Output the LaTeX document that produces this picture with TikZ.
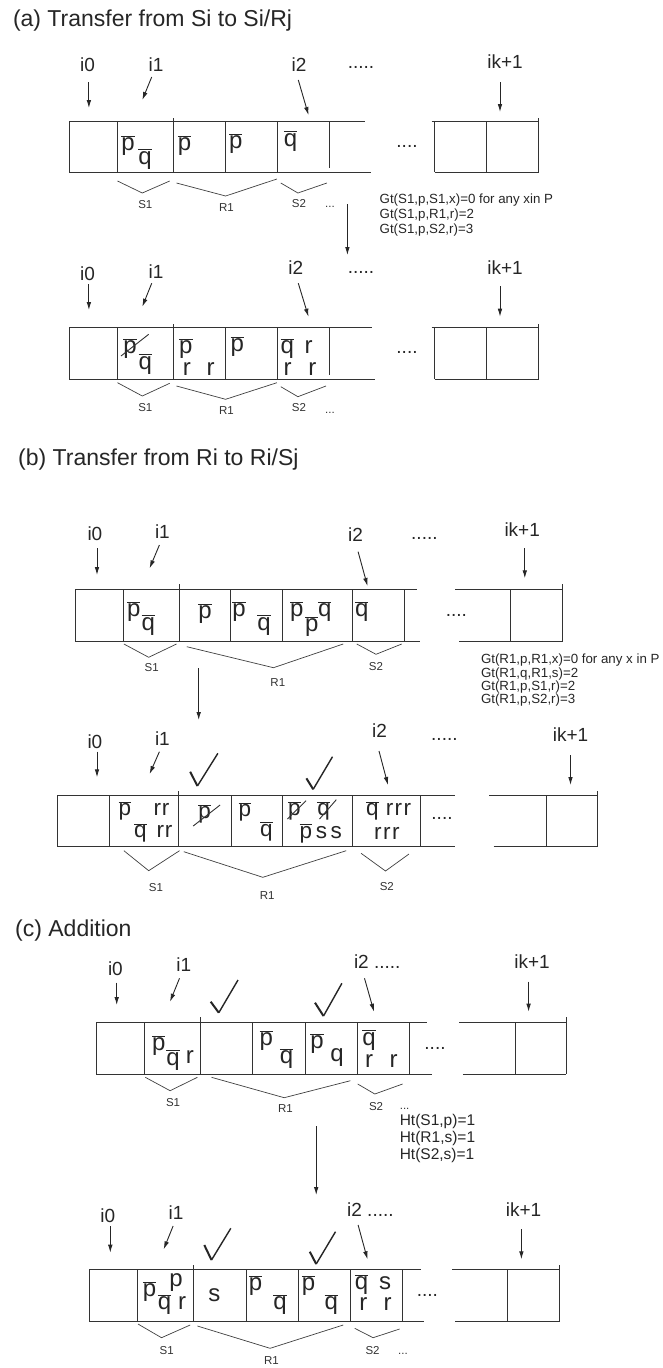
\documentclass[tikz,border=0pt]{standalone}
\usepackage{fontspec}
\setmainfont{Liberation Sans}
\usetikzlibrary{arrows.meta}
\newcommand\ob[1]{$\overline{\mbox{#1}}$}
\newcommand\conarr[3]{\coordinate (#1s) at (#2);\coordinate (#1e) at (#3);\draw[arr] (#1s) -- (#1e);}
\newcommand\vln[3]{\draw[ln] (#1,#2) -- (#1,#3);}
\newcommand\hln[3]{\draw[ln] (#1,#3) -- (#2,#3);}
\newcommand\chkm[3]{\draw[line width=2pt,draw=black!85] (#1) -- (#2);\draw[line width=1.4pt,draw=black!85] (#2) -- (#3);}
\tikzset{
 ln/.style={line width=0.9pt, draw=black!80},
 arr/.style={line width=0.9pt, draw=black!85, -{Latex[length=8pt,width=4.6pt]}},
 brc/.style={line width=0.7pt, draw=black!75},
 ttl/.style={font=\fontsize{23}{27}\selectfont, anchor=base west, inner sep=0, text=black!85},
 lbl/.style={font=\fontsize{19}{22}\selectfont, anchor=base, inner sep=0, text=black!85},
 lblw/.style={lbl, anchor=base west},
 cel/.style={font=\fontsize{24}{28}\selectfont, anchor=base, inner sep=0, text=black!85},
 celb/.style={cel, font=\fontsize{22.5}{26}\selectfont},
 sml/.style={font=\fontsize{11.5}{13}\selectfont, anchor=base, inner sep=0, text=black!80},
 gt/.style={font=\fontsize{13.3}{15}\selectfont, anchor=base west, inner sep=0, text=black!85},
 ht/.style={font=\fontsize{15.5}{17}\selectfont, anchor=base west, inner sep=0, text=black!85},
}
\begin{document}
\begin{tikzpicture}[x=1pt,y=-1pt]
\useasboundingbox (0,0) rectangle (662,1368);
\fill[white] (0,0) rectangle (662,1368);
% ================= (a) =================
\node[ttl] (ta) at (12.8,26) {(a) Transfer from Si to Si/Rj};
% row a1
\node[lbl] (a1i0) at (87.6,71) {i0};
\node[lbl] (a1i1) at (156,71) {i1};
\node[lbl] (a1i2) at (299,71) {i2};
\node[lbl] (a1dd) at (361,68) {.....};
\node[lbl] (a1ik) at (505,68) {ik+1};
\conarr{a1a0}{88.9,82}{88.9,108}
\conarr{a1a1}{151.7,77}{142.3,100}
\conarr{a1a2}{298.3,80}{308.5,115}
\conarr{a1ak}{500,82}{500,112}
\hln{69.2}{364.5}{121}
\hln{69.2}{370.9}{172}
\vln{69.2}{121}{172}
\vln{117.5}{121}{172}
\vln{173.1}{118}{172}
\vln{225.6}{121}{172}
\vln{277.8}{121}{172}
\vln{329.9}{121}{168}
\hln{431.6}{538.5}{121}
\hln{434.6}{538.5}{172}
\vln{434.6}{121}{172}
\vln{486.3}{121}{172}
\vln{538.5}{118}{172}
\node[lbl] (a1cd) at (407,147) {....};
\node[cel] (a1c1p) at (128,150) {\ob{p}};
\node[cel] (a1c1q) at (145,164) {\ob{q}};
\node[cel] (a1c2p) at (184.5,150) {\ob{p}};
\node[cel] (a1c3p) at (235.8,148) {\ob{p}};
\node[cel] (a1c4q) at (290.5,146) {\ob{q}};
\draw[brc] (117.5,181) -- (142.3,193) -- (169.7,181);
\draw[brc] (176.5,183) -- (225.6,196) -- (276.9,179);
\draw[brc] (280.8,183) -- (297.9,193) -- (326.9,183);
\node[sml] (a1s1) at (145.3,208) {S1};
\node[sml] (a1r1) at (226.5,211.7) {R1};
\node[sml] (a1s2) at (299,207.7) {S2};
\node[sml] (a1el) at (330,207.7) {...};
\node[gt] (a1g1) at (379.5,203.3) {Gt(S1,p,S1,x)=0 for any xin P};
\node[gt] (a1g2) at (379.5,218.3) {Gt(S1,p,R1,r)=2};
\node[gt] (a1g3) at (379.5,233.3) {Gt(S1,p,S2,r)=3};
\conarr{aBig}{347.4,204.3}{347.4,255}
% row a2
\node[lbl] (a2i0) at (87.6,280.7) {i0};
\node[lbl] (a2i1) at (156,278.3) {i1};
\node[lbl] (a2i2) at (295.7,274) {i2};
\node[lbl] (a2dd) at (361,273.3) {.....};
\node[lbl] (a2ik) at (505,274) {ik+1};
\conarr{a2a0}{88.9,284}{88.9,310}
\conarr{a2a1}{151.7,283.3}{142.3,306.7}
\conarr{a2a2}{298.3,283.3}{308.5,316.7}
\conarr{a2ak}{500,286}{500,316.7}
\hln{69.2}{371.8}{327.7}
\hln{69.2}{375.2}{379}
\vln{69.2}{327.7}{379}
\vln{117.5}{327.7}{379}
\vln{173.1}{324}{379}
\vln{225.6}{327.7}{379}
\vln{277.8}{327.7}{379}
\vln{329.9}{327.7}{375}
\hln{431.6}{538.5}{327.7}
\hln{434.6}{538.5}{379}
\vln{434.6}{327.7}{379}
\vln{486.3}{327.7}{379}
\vln{538.5}{324}{379}
\node[lbl] (a2cd) at (407,353.3) {....};
\node[cel] (a2c1p) at (130,353) {\ob{p}};
\draw[ln] (121,356) -- (148.7,334.3);
\node[cel] (a2c1q) at (145.3,369) {\ob{q}};
\node[cel] (a2c2p) at (185.9,353) {\ob{p}};
\node[cel] (a2c2r1) at (186.8,375) {r};
\node[cel] (a2c2r2) at (210.7,375) {r};
\node[cel] (a2c3p) at (237.2,351.7) {\ob{p}};
\node[cel] (a2c4q) at (287.2,353.3) {\ob{q}};
\node[cel] (a2c4r1) at (308.5,353.3) {r};
\node[cel] (a2c4r2) at (287.6,375) {r};
\node[cel] (a2c4r3) at (312.4,375) {r};
\draw[brc] (117.5,382.7) -- (142.3,396) -- (169.7,383.3);
\draw[brc] (176.5,386) -- (225.6,399.3) -- (276.9,382.7);
\draw[brc] (280.8,386.7) -- (297.9,396.7) -- (326,386);
\node[sml] (a2s1) at (145.3,411) {S1};
\node[sml] (a2r1) at (226.5,414.3) {R1};
\node[sml] (a2s2) at (299,411) {S2};
\node[sml] (a2el) at (330,413.3) {...};
% ================= (b) =================
\node[ttl] (tb) at (18,465.7) {(b) Transfer from Ri to Ri/Sj};
% row b1
\node[lbl] (b1i0) at (94.9,540) {i0};
\node[lbl] (b1i1) at (162.4,538.3) {i1};
\node[lbl] (b1i2) at (355.6,541.7) {i2};
\node[lbl] (b1dd) at (424.4,539) {.....};
\node[lbl] (b1ik) at (522.2,536) {ik+1};
\conarr{b1a0}{97,548.3}{97,575}
\conarr{b1a1}{159.4,545}{149.6,568.3}
\conarr{b1a2}{358.1,551.7}{367.5,586}
\conarr{b1ak}{524.8,548.3}{524.8,578.3}
\hln{75.3}{416.7}{589}
\hln{75.3}{420}{641}
\vln{75.3}{589}{641}
\vln{123.6}{589}{641}
\vln{179}{584}{641}
\vln{230.7}{589}{641}
\vln{282.4}{589}{641}
\vln{352}{589}{641}
\vln{404}{589}{641}
\hln{455.1}{562.8}{589}
\hln{459.4}{562.8}{641}
\vln{510.7}{589}{641}
\vln{562.8}{584}{641}
\node[lbl] (b1cd) at (456.4,616) {....};
\node[cel] (b1c2p) at (133.8,616.7) {\ob{p}};
\node[cel] (b1c2q) at (148.3,630) {\ob{q}};
\node[cel] (b1c3p) at (205,618.3) {\ob{p}};
\node[cel] (b1c4p) at (239,616.7) {\ob{p}};
\node[cel] (b1c4q) at (264,630) {\ob{q}};
\node[cel] (b1c5p) at (296.7,616.7) {\ob{p}};
\node[cel] (b1c5pp) at (311.7,631) {\ob{p}};
\node[cel] (b1c5q) at (324.7,616.7) {\ob{q}};
\node[cel] (b1c6q) at (361.7,616.7) {\ob{q}};
\draw[brc] (123.9,644) -- (148.7,657.3) -- (176.5,644);
\draw[brc] (186.8,646.7) -- (273.5,667.7) -- (343.2,644);
\draw[brc] (356.8,644) -- (376,654.3) -- (401.7,644);
\node[sml] (b1s1) at (151.7,671.7) {S1};
\node[sml] (b1r1) at (277.8,686.7) {R1};
\node[sml] (b1s2) at (376,670) {S2};
\node[gt] (b1g1) at (480.8,663.3) {Gt(R1,p,R1,x)=0 for any x in P};
\node[gt] (b1g2) at (480.8,677) {Gt(R1,q,R1,s)=2};
\node[gt] (b1g3) at (480.8,690.3) {Gt(R1,p,S1,r)=2};
\node[gt] (b1g4) at (480.8,703.6) {Gt(R1,p,S2,r)=3};
\conarr{bBig}{198.7,668.3}{198.7,720}
% row b2
\node[lbl] (b2i0) at (94.9,748.3) {i0};
\node[lbl] (b2i1) at (162.4,745) {i1};
\node[lbl] (b2i2) at (379.5,737.3) {i2};
\node[lbl] (b2dd) at (444.4,740) {.....};
\node[lbl] (b2ik) at (570.5,741.7) {ik+1};
\conarr{b2a0}{97,751.7}{97,777.3}
\conarr{b2a1}{159.4,751.7}{149.6,774}
\conarr{b2a2}{379,751}{388,785}
\conarr{b2ak}{570.5,755}{570.5,785}
\chkm{190.2,771.7}{197.4,786}{217.9,753.3}
\chkm{306.4,778.3}{313.2,789.3}{332.5,756.7}
\hln{57.9}{455}{795}
\hln{57.9}{455}{846.7}
\vln{57.9}{795}{846.7}
\vln{109.8}{795}{846.7}
\vln{178.6}{791}{846.7}
\vln{231}{795}{846.7}
\vln{282.4}{795}{846.7}
\vln{352}{795}{846.7}
\vln{420.6}{795}{846.7}
\hln{489.3}{597}{795}
\hln{493.6}{597}{846.7}
\vln{546.2}{795}{846.7}
\vln{597}{791}{846.7}
\node[lbl] (b2cd) at (442,819) {....};
\node[celb] (b2c2p) at (125,815.5) {\ob{p}};
\node[celb] (b2c2q) at (140.5,837.5) {\ob{q}};
\node[celb] (b2c2r1) at (161.5,815.5) {r\kern1pt r};
\node[celb] (b2c2r2) at (164.5,837.5) {r\kern1pt r};
\node[celb] (b2c3p) at (204.7,818.3) {\ob{p}};
\draw[ln] (193.2,826) -- (220.1,805);
\node[celb] (b2c4p) at (245,816.5) {\ob{p}};
\node[celb] (b2c4q) at (266.4,836) {\ob{q}};
\node[celb] (b2c5p) at (294.3,815.5) {\ob{p}};
\draw[ln] (287.5,819) -- (306,800.7);
\node[celb] (b2c5q) at (323.7,815.5) {\ob{q}};
\draw[ln] (319.5,819) -- (336.3,799.7);
\node[celb] (b2c5pp) at (306,838) {\ob{p}};
\node[celb] (b2c5s1) at (321.4,838) {s};
\node[celb] (b2c5s2) at (336.3,838) {s};
\node[celb] (b2c6q) at (372.5,815.5) {\ob{q}};
\node[celb] (b2c6r1) at (398.5,815.5) {r\kern1.5pt r\kern1.5pt r};
\node[celb] (b2c6r2) at (386.8,839.5) {r\kern1.5pt r\kern1.5pt r};
\draw[brc] (123.9,850.7) -- (148.7,870.7) -- (179.5,850.7);
\draw[brc] (183.8,851.7) -- (262.8,877.3) -- (346.2,850.7);
\draw[brc] (361.1,853.3) -- (385.5,871) -- (409,854);
\node[sml] (b2s1) at (156,891.7) {S1};
\node[sml] (b2r1) at (267.1,899.3) {R1};
\node[sml] (b2s2) at (386.8,890) {S2};
% ================= (c) =================
\node[ttl] (tc) at (15,936) {(c) Addition};
% row c1
\node[lbl] (c1i0) at (115.4,975) {i0};
\node[lbl] (c1i1) at (183.8,971.7) {i1};
\node[lblw] (c1i2) at (353.8,968.3) {i2 .....};
\node[lbl] (c1ik) at (532,968.3) {ik+1};
\conarr{c1a0}{116.7,982.7}{116.7,1005}
\conarr{c1a1}{179.5,978.3}{170,1001.7}
\conarr{c1a2}{364.5,978.3}{374,1011.7}
\conarr{c1ak}{528.6,981.7}{528.6,1011.7}
\chkm{210.7,1001.7}{218.8,1012.7}{238,980}
\chkm{315,1002.7}{323.5,1016}{341.9,983.3}
\hln{96.3}{427.4}{1022.3}
\hln{96.3}{431.6}{1074}
\vln{96.3}{1022.3}{1074}
\vln{144.9}{1022.3}{1074}
\vln{200.5}{1017}{1074}
\vln{252.8}{1022.3}{1074}
\vln{305}{1022.3}{1074}
\vln{357.1}{1022.3}{1074}
\vln{409.5}{1022.3}{1074}
\hln{459.4}{566.2}{1022.3}
\hln{462.8}{566.2}{1074}
\vln{515}{1022.3}{1074}
\vln{566.2}{1017}{1074}
\node[lbl] (c1cd) at (435,1049.3) {....};
\node[cel] (c1c2p) at (158.7,1050) {\ob{p}};
\node[cel] (c1c2q) at (173,1065) {\ob{q}};
\node[cel] (c1c2r) at (189.9,1063.3) {r};
\node[cel] (c1c4p) at (266.4,1045) {\ob{p}};
\node[cel] (c1c4q) at (286.6,1063.3) {\ob{q}};
\node[cel] (c1c5p) at (317,1048.3) {\ob{p}};
\node[cel] (c1c5q) at (337,1061.7) {q};
\node[cel] (c1c6q) at (369,1045) {\ob{q}};
\node[cel] (c1c6r1) at (369,1067.5) {r};
\node[cel] (c1c6r2) at (393.5,1067.5) {r};
\draw[brc] (145.3,1077.3) -- (170.1,1090.7) -- (197.4,1077.3);
\draw[brc] (211.5,1077.3) -- (284.2,1097.7) -- (350.4,1080.7);
\draw[brc] (357.7,1084) -- (374.8,1094) -- (402.6,1084);
\node[sml] (c1s1) at (173.1,1106) {S1};
\node[sml] (c1r1) at (285.5,1112.7) {R1};
\node[sml] (c1s2) at (376.1,1110) {S2};
\node[sml, anchor=base west] (c1el) at (399.6,1109.3) {...};
\node[ht] (c1h1) at (399.6,1125.5) {Ht(S1,p)=1};
\node[ht] (c1h2) at (399.6,1142.7) {Ht(R1,s)=1};
\node[ht] (c1h3) at (399.6,1159.6) {Ht(S2,s)=1};
\conarr{cBig}{316.2,1126}{316.2,1195}
% row c2
\node[lbl] (c2i0) at (107.7,1222.7) {i0};
\node[lbl] (c2i1) at (176.1,1219.3) {i1};
\node[lblw] (c2i2) at (347,1216) {i2 .....};
\node[lbl] (c2ik) at (523.5,1216.7) {ik+1};
\conarr{c2a0}{110.3,1226}{110.3,1252.7}
\conarr{c2a1}{173.1,1226}{163.7,1249.3}
\conarr{c2a2}{358.1,1225}{367.5,1259.3}
\conarr{c2ak}{521.4,1229.3}{521.4,1259.3}
\chkm{204.3,1245}{211.5,1260}{230.8,1228.3}
\chkm{309.8,1251.7}{316.2,1264}{335.5,1231.7}
\hln{89.3}{421}{1269.3}
\hln{89.3}{424.4}{1321.7}
\vln{89.3}{1269.3}{1321.7}
\vln{137.8}{1269.3}{1321.7}
\vln{193.8}{1265}{1321.7}
\vln{246}{1269.3}{1321.7}
\vln{298}{1269.3}{1321.7}
\vln{350.5}{1269.3}{1321.7}
\vln{402.5}{1269.3}{1321.7}
\hln{452.1}{559}{1269.3}
\hln{455.1}{559}{1321.7}
\vln{507.7}{1269.3}{1321.7}
\vln{559}{1265}{1321.7}
\node[lbl] (c2cd) at (427.4,1296.7) {....};
\node[cel] (c2c2p) at (149.5,1296.7) {\ob{p}};
\node[cel] (c2c2q) at (164.5,1309) {\ob{q}};
\node[cel] (c2c2pp) at (176,1286.5) {p};
\node[cel] (c2c2r) at (182,1309) {r};
\node[cel] (c2c3s) at (214.3,1301.7) {s};
\node[cel] (c2c4p) at (255.5,1290) {\ob{p}};
\node[cel] (c2c4q) at (280,1309) {\ob{q}};
\node[cel] (c2c5p) at (308.5,1290) {\ob{p}};
\node[cel] (c2c5q) at (331.3,1309) {\ob{q}};
\node[cel] (c2c6q) at (361.6,1289) {\ob{q}};
\node[cel] (c2c6s) at (385,1289) {s};
\node[cel] (c2c6r1) at (363.3,1310.5) {r};
\node[cel] (c2c6r2) at (387.7,1310.5) {r};
\draw[brc] (138,1324) -- (161.5,1337.7) -- (190.2,1325);
\draw[brc] (197.4,1326) -- (270.1,1348.3) -- (343.2,1325);
\draw[brc] (354.7,1328.3) -- (373.1,1337.7) -- (399.6,1329);
\node[sml] (c2s1) at (166.7,1354) {S1};
\node[sml] (c2r1) at (271.4,1364) {R1};
\node[sml] (c2s2) at (372.6,1354) {S2};
\node[sml] (c2el) at (403,1354) {...};
\end{tikzpicture}
\end{document}
